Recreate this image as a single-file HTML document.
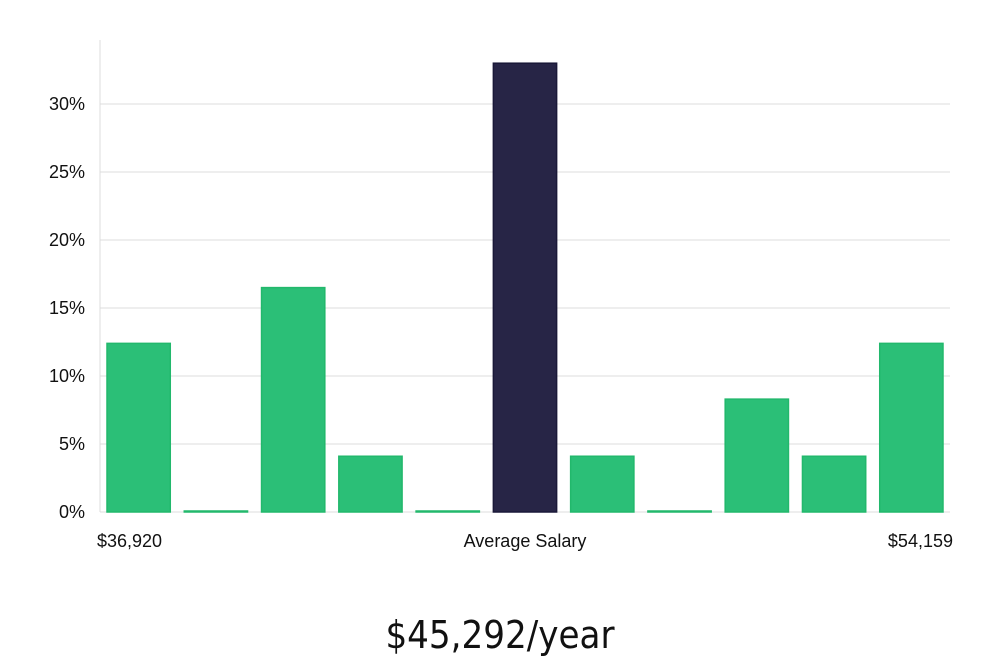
<!DOCTYPE html>
<html><head><meta charset="utf-8"><style>
body{margin:0;background:#fff;font-family:"Liberation Sans","DejaVu Sans",sans-serif}
svg{display:block}
</style></head><body>
<svg id="c" width="1000" height="660"></svg>
<script>
const categories=["b1","b2","b3","b4","b5","b6","b7","b8","b9","b10","b11"];
const values=[12.4,0,16.5,4.1,0,33,4.1,0,8.3,4.1,12.4];
const highlight=[false,false,false,false,false,true,false,false,false,false,false];
const yTicks=[0,5,10,15,20,25,30];
const xLabels=["$36,920","Average Salary","$54,159"];
const title="$45,292/year";
const NS="http://www.w3.org/2000/svg";
const svg=document.getElementById('c');
const x0=100,x1=950,y0=512,pxPer=13.6;
const y=v=>y0-v*pxPer;
const slot=(x1-x0)/categories.length;
function mk(t,a){const e=document.createElementNS(NS,t);for(const k in a)e.setAttribute(k,a[k]);svg.appendChild(e);return e;}
const ax=mk('line',{x1:x0,x2:x0,y1:40,y2:y0,stroke:'#dcdcdc'});


yTicks.forEach(t=>{
 const g=mk('line',{x1:x0,x2:x1,y1:y(t),y2:y(t),stroke:'#dcdcdc'});
 
 
 const l=mk('text',{x:85,y:y(t)+6,'text-anchor':'end','font-size':18,fill:'#111'});
 l.textContent=t+'%';
 
 
});
values.forEach((v,i)=>{
 const bx=x0+i*slot+7,bw=slot-14;
 const h=Math.max(v*pxPer,1);
 const r=mk('rect',{x:bx,y:y0-h,width:bw,height:h,fill:highlight[i]?'#272546':'#2bbf77',stroke:highlight[i]?'#1a1838':'#22b86c','stroke-width':1.5});
 
 
});
const xl=[[97,'start'],[525,'middle'],[953,'end']];
xLabels.forEach((s,i)=>{
 const t=mk('text',{x:xl[i][0],y:547,'text-anchor':xl[i][1],'font-size':18,fill:'#111'});
 t.textContent=s;
 
 
});
const tt=mk('text',{x:500,y:648,'text-anchor':'middle','font-size':38,fill:'#111','font-family':'"DejaVu Sans Condensed","Liberation Sans Narrow",sans-serif','font-weight':'300'});
tt.textContent=title;


</script>
</body></html>
